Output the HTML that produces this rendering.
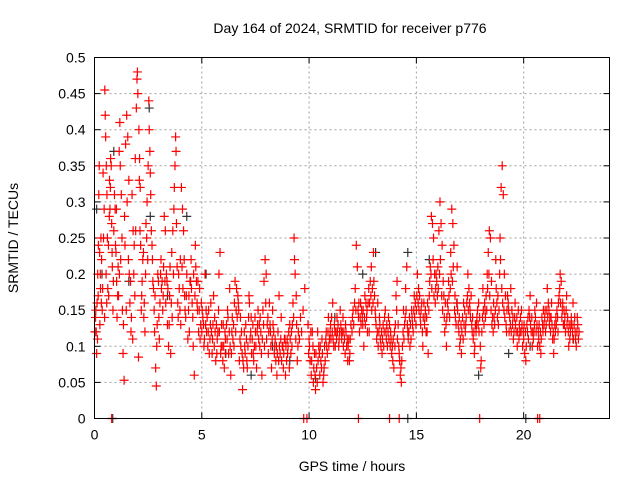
<!DOCTYPE html>
<html><head><meta charset="utf-8"><style>
body{margin:0;background:#fff;}
svg text{font-family:"Liberation Sans",sans-serif;font-size:14px;fill:#000;}
</style></head><body>
<svg id="chart" width="640" height="480" xmlns="http://www.w3.org/2000/svg">
<rect width="640" height="480" fill="#fff"/>
<g id="grid"></g>
<g id="axes"></g>
<g id="black"></g>
<g id="red"></g>
<rect x="94.5" y="57.5" width="515" height="361" fill="none" stroke="#000"/>
<text x="350" y="33" text-anchor="middle">Day 164 of 2024, SRMTID for receiver p776</text>
<text x="352" y="471" text-anchor="middle">GPS time / hours</text>
<text transform="translate(18,238) rotate(-90)" text-anchor="middle">SRMTID / TECUs</text>
</svg>
<script>
const xTicks=[0,5,10,15,20];
const yTicks=[0,0.05,0.1,0.15,0.2,0.25,0.3,0.35,0.4,0.45,0.5];
const yTickLabels=["0","0.05","0.1","0.15","0.2","0.25","0.3","0.35","0.4","0.45","0.5"];
const redPoints=[
[0.05,0.14],[0.08,0.12],[0.1,0.09],[0.12,0.16],[0.15,0.2],[0.18,0.24],[0.2,0.31],[0.22,0.35],[0.25,0.13],[0.28,0.18],[0.3,0.25],[0.33,0.22],[0.36,0.15],[0.4,0.34],[0.45,0.29],[0.48,0.455],[0.5,0.42],[0.52,0.39],[0.55,0.35],[0.58,0.31],[0.6,0.25],[0.62,0.18],[0.65,0.24],[0.7,0.33],[0.72,0.29],[0.75,0.36],[0.78,0.35],[0.8,0.27],[0.83,0.21],[0.86,0.15],[0.9,0.26],[0.93,0.31],[0.96,0.29],[1.0,0.23],[1.03,0.19],[1.05,0.14],[1.08,0.17],[1.1,0.21],[1.15,0.37],[1.18,0.41],[1.2,0.35],[1.25,0.31],[1.28,0.25],[1.3,0.15],[1.33,0.09],[1.38,0.053],[1.4,0.28],[1.45,0.38],[1.5,0.42],[1.55,0.39],[1.6,0.33],[1.62,0.2],[1.65,0.16],[1.7,0.12],[1.75,0.31],[1.8,0.26],[1.85,0.24],[1.9,0.36],[1.95,0.43],[1.98,0.47],[2.0,0.48],[2.02,0.45],[2.05,0.085],[2.07,0.4],[2.1,0.36],[2.13,0.32],[2.15,0.24],[2.2,0.17],[2.25,0.22],[2.3,0.14],[2.35,0.12],[2.4,0.27],[2.45,0.3],[2.5,0.35],[2.53,0.44],[2.55,0.4],[2.58,0.37],[2.6,0.34],[2.65,0.26],[2.7,0.22],[2.75,0.18],[2.8,0.12],[2.85,0.07],[2.88,0.045],[2.9,0.1],[2.95,0.2],[3.0,0.14],[3.05,0.16],[3.1,0.22],[3.15,0.19],[3.2,0.17],[3.25,0.28],[3.3,0.26],[3.35,0.2],[3.4,0.13],[3.45,0.1],[3.5,0.17],[3.55,0.09],[3.6,0.23],[3.65,0.26],[3.7,0.29],[3.72,0.32],[3.75,0.35],[3.78,0.39],[3.8,0.37],[3.85,0.21],[3.9,0.14],[3.95,0.18],[4.0,0.22],[4.05,0.32],[4.1,0.29],[4.15,0.26],[4.2,0.17],[4.25,0.14],[4.3,0.2],[4.35,0.11],[4.4,0.17],[4.45,0.19],[4.5,0.22],[4.55,0.16],[4.6,0.1],[4.65,0.06],[4.7,0.24],[4.75,0.19],[4.8,0.15],[4.85,0.12],[4.9,0.18],[4.95,0.13],
[5.0,0.12],[5.05,0.14],[5.1,0.1],[5.15,0.2],[5.2,0.15],[5.3,0.12],[5.35,0.09],[5.4,0.13],[5.5,0.11],[5.55,0.17],[5.6,0.14],[5.7,0.09],[5.75,0.12],[5.8,0.2],[5.85,0.23],[5.9,0.1],[6.0,0.13],[6.05,0.07],[6.1,0.11],[6.2,0.15],[6.25,0.09],[6.3,0.18],[6.35,0.06],[6.4,0.12],[6.5,0.1],[6.55,0.19],[6.6,0.15],[6.7,0.16],[6.75,0.08],[6.8,0.14],[6.85,0.12],[6.9,0.04],[6.95,0.07],[7.0,0.1],[7.05,0.13],[7.1,0.08],[7.2,0.17],[7.25,0.11],[7.3,0.14],[7.4,0.09],[7.5,0.12],[7.55,0.07],[7.6,0.13],[7.7,0.1],[7.8,0.06],[7.85,0.15],[7.9,0.19],[7.95,0.22],[8.0,0.2],[8.05,0.13],[8.1,0.09],[8.2,0.12],[8.25,0.07],[8.3,0.15],[8.4,0.1],[8.45,0.08],[8.5,0.06],[8.55,0.12],[8.6,0.17],[8.7,0.14],[8.75,0.1],[8.8,0.07],[8.85,0.11],[8.9,0.06],[9.0,0.09],[9.05,0.12],[9.1,0.13],[9.2,0.1],[9.25,0.16],[9.3,0.25],[9.32,0.22],[9.35,0.2],[9.4,0.17],[9.45,0.08],[9.5,0.12],[9.6,0.14],[9.8,0.18],
[9.95,0.13],[10.0,0.11],[10.05,0.08],[10.1,0.06],[10.15,0.12],[10.2,0.05],[10.25,0.09],[10.3,0.04],[10.35,0.07],[10.4,0.12],[10.45,0.1],[10.5,0.06],[10.55,0.08],[10.6,0.11],[10.65,0.05],[10.7,0.07],[10.8,0.12],[10.85,0.09],[10.9,0.14],[10.95,0.11],[11.0,0.13],[11.1,0.16],[11.15,0.1],[11.2,0.12],[11.3,0.14],[11.4,0.11],[11.45,0.15],[11.5,0.12],[11.6,0.1],[11.7,0.13],[11.8,0.08],[11.85,0.11],[11.9,0.09],[12.0,0.12],[12.05,0.15],[12.15,0.18],[12.2,0.24],[12.25,0.21],[12.3,0.14],[12.35,0.12],[12.4,0.16],[12.5,0.13],[12.55,0.1],[12.6,0.17],[12.7,0.15],[12.8,0.12],[12.85,0.19],[12.9,0.21],[13.0,0.23],[13.05,0.17],[13.1,0.14],[13.15,0.11],[13.2,0.16],[13.3,0.13],[13.4,0.09],[13.5,0.12],[13.55,0.15],[13.6,0.11],[13.7,0.14],[13.8,0.12],[13.9,0.08],[13.95,0.07],[14.0,0.1],[14.05,0.17],[14.1,0.19],[14.15,0.13],[14.2,0.09],[14.25,0.06],[14.3,0.05],[14.35,0.1],[14.4,0.15],[14.45,0.13],[14.5,0.18],[14.55,0.21],[14.6,0.12],[14.7,0.1],[14.8,0.14],[14.85,0.12],[14.9,0.17],[15.0,0.15],[15.05,0.2],[15.1,0.18],[15.2,0.13],[15.25,0.16],[15.3,0.1],[15.4,0.14],[15.5,0.12],[15.55,0.09],[15.6,0.17],[15.7,0.28],[15.75,0.27],[15.8,0.25],[15.85,0.2],[15.9,0.18],[16.0,0.21],[16.05,0.26],[16.1,0.3],[16.15,0.27],[16.2,0.24],[16.25,0.19],[16.3,0.14],[16.35,0.16],[16.4,0.1],[16.5,0.19],[16.6,0.23],[16.65,0.29],[16.7,0.27],[16.75,0.24],[16.8,0.17],[16.85,0.13],[16.9,0.21],[17.0,0.14],[17.05,0.11],[17.1,0.09],[17.2,0.16],[17.3,0.13],[17.4,0.2],[17.45,0.18],[17.5,0.15],[17.6,0.12],[17.7,0.09],[17.8,0.13],[17.9,0.16],[17.95,0.14],[18.0,0.07],[18.05,0.12],[18.1,0.18],[18.2,0.15],[18.3,0.2],[18.35,0.23],[18.4,0.26],[18.45,0.25],[18.5,0.19],[18.55,0.14],[18.6,0.16],[18.7,0.22],[18.8,0.17],[18.9,0.25],[18.95,0.32],[19.0,0.35],[19.05,0.31],[19.1,0.2],[19.15,0.17],[19.2,0.12],[19.3,0.15],[19.4,0.18],[19.5,0.14],[19.55,0.12],[19.6,0.16],[19.7,0.1],[19.8,0.13],[19.9,0.15],[20.0,0.11],[20.05,0.09],[20.1,0.08],[20.2,0.14],[20.3,0.17],[20.35,0.12],[20.4,0.1],[20.5,0.13],[20.6,0.16],[20.7,0.11],[20.8,0.09],[20.85,0.14],[20.9,0.12],[21.0,0.15],[21.1,0.18],[21.2,0.13],[21.3,0.16],[21.35,0.11],[21.4,0.09],[21.5,0.14],[21.6,0.12],[21.65,0.17],[21.7,0.2],[21.75,0.19],[21.8,0.15],[21.9,0.13],[22.0,0.17],[22.05,0.14],[22.1,0.1],[22.2,0.13],[22.3,0.16],[22.4,0.12],[22.45,0.1],[22.5,0.14],[22.55,0.11]
];
const redPointsExtra=[
[0.02,0.12],[0.06,0.15],[0.14,0.11],[0.17,0.17],[0.24,0.23],[0.27,0.2],[0.32,0.16],[0.38,0.18],[0.42,0.25],[0.47,0.14],[0.54,0.2],[0.57,0.16],[0.66,0.17],[0.69,0.28],[0.74,0.32],[0.82,0.23],[0.88,0.19],[0.98,0.24],[1.02,0.29],[1.12,0.17],[1.16,0.2],[1.22,0.22],[1.35,0.13],[1.42,0.24],[1.48,0.15],[1.52,0.3],[1.58,0.22],[1.68,0.19],[1.72,0.14],[1.78,0.11],[1.83,0.2],[1.88,0.17],[1.92,0.26],[2.09,0.33],[2.12,0.26],[2.18,0.15],[2.22,0.19],[2.28,0.23],[2.32,0.16],[2.38,0.2],[2.43,0.25],[2.48,0.22],[2.62,0.31],[2.68,0.24],[2.72,0.19],[2.78,0.15],[2.82,0.17],[2.92,0.13],[2.98,0.19],[3.02,0.11],[3.08,0.2],[3.12,0.18],[3.18,0.15],[3.22,0.21],[3.28,0.19],[3.32,0.16],[3.38,0.19],[3.42,0.18],[3.48,0.13],[3.52,0.21],[3.58,0.16],[3.62,0.14],[3.68,0.2],[3.82,0.27],[3.88,0.16],[3.92,0.2],[3.98,0.15],[4.02,0.13],[4.08,0.21],[4.12,0.18],[4.18,0.22],[4.22,0.15],[4.28,0.17],[4.38,0.15],[4.42,0.12],[4.48,0.19],[4.52,0.18],[4.58,0.14],[4.62,0.2],[4.68,0.17],[4.72,0.21],[4.78,0.16],[4.82,0.19],[4.88,0.15],[4.92,0.11],[4.98,0.16],
[5.02,0.15],[5.08,0.13],[5.12,0.11],[5.18,0.13],[5.22,0.12],[5.25,0.14],[5.28,0.1],[5.32,0.15],[5.38,0.11],[5.42,0.16],[5.45,0.12],[5.48,0.09],[5.52,0.13],[5.58,0.1],[5.62,0.12],[5.65,0.08],[5.68,0.13],[5.72,0.11],[5.78,0.15],[5.82,0.12],[5.88,0.09],[5.92,0.13],[5.95,0.1],[5.98,0.08],[6.02,0.1],[6.08,0.12],[6.12,0.09],[6.15,0.13],[6.18,0.11],[6.22,0.14],[6.28,0.12],[6.32,0.1],[6.38,0.09],[6.42,0.14],[6.45,0.11],[6.48,0.13],[6.52,0.16],[6.58,0.12],[6.62,0.18],[6.65,0.14],[6.68,0.17],[6.72,0.15],[6.78,0.11],[6.82,0.1],[6.88,0.09],[6.92,0.08],[6.98,0.12],[7.02,0.09],[7.08,0.11],[7.12,0.07],[7.15,0.1],[7.18,0.14],[7.22,0.16],[7.28,0.12],[7.32,0.09],[7.35,0.11],[7.38,0.13],[7.42,0.08],[7.45,0.1],[7.48,0.14],[7.52,0.1],[7.58,0.12],[7.62,0.15],[7.65,0.11],[7.68,0.13],[7.72,0.14],[7.75,0.12],[7.78,0.09],[7.82,0.11],[7.88,0.13],[7.92,0.1],[7.98,0.16],[8.02,0.11],[8.08,0.14],[8.12,0.12],[8.15,0.16],[8.18,0.13],[8.22,0.1],[8.28,0.11],[8.32,0.13],[8.35,0.12],[8.38,0.09],[8.42,0.11],[8.48,0.1],[8.52,0.09],[8.58,0.08],[8.62,0.1],[8.65,0.09],[8.68,0.11],[8.72,0.08],[8.78,0.1],[8.82,0.09],[8.88,0.11],[8.92,0.1],[8.95,0.08],[8.98,0.11],[9.02,0.1],[9.08,0.07],[9.12,0.11],[9.15,0.09],[9.18,0.12],[9.22,0.13],[9.28,0.14],[9.38,0.11],[9.42,0.13],[9.48,0.1],[9.55,0.11],[9.65,0.12],[9.72,0.15],
[9.98,0.09],[10.02,0.1],[10.08,0.12],[10.12,0.08],[10.18,0.1],[10.22,0.07],[10.28,0.06],[10.32,0.09],[10.38,0.05],[10.42,0.08],[10.48,0.09],[10.52,0.1],[10.58,0.07],[10.62,0.09],[10.68,0.06],[10.72,0.1],[10.75,0.08],[10.78,0.11],[10.82,0.1],[10.88,0.12],[10.92,0.1],[10.98,0.12],[11.02,0.11],[11.05,0.14],[11.08,0.12],[11.12,0.11],[11.18,0.13],[11.22,0.1],[11.25,0.12],[11.28,0.11],[11.32,0.12],[11.35,0.13],[11.38,0.1],[11.42,0.12],[11.48,0.13],[11.52,0.11],[11.55,0.12],[11.58,0.14],[11.62,0.12],[11.65,0.11],[11.68,0.09],[11.72,0.12],[11.75,0.1],[11.78,0.11],[11.82,0.1],[11.88,0.08],[11.92,0.11],[11.95,0.13],[12.02,0.14],[12.08,0.13],[12.12,0.16],[12.18,0.15],[12.28,0.15],[12.32,0.16],[12.38,0.14],[12.42,0.13],[12.45,0.15],[12.48,0.14],[12.52,0.15],[12.58,0.14],[12.62,0.13],[12.65,0.16],[12.68,0.14],[12.72,0.12],[12.75,0.16],[12.78,0.18],[12.82,0.16],[12.88,0.17],[12.92,0.15],[12.95,0.18],[12.98,0.16],[13.02,0.19],[13.08,0.15],[13.12,0.13],[13.18,0.12],[13.22,0.1],[13.25,0.12],[13.28,0.14],[13.32,0.11],[13.35,0.1],[13.38,0.12],[13.42,0.11],[13.45,0.13],[13.48,0.1],[13.52,0.14],[13.58,0.12],[13.62,0.13],[13.65,0.1],[13.68,0.12],[13.72,0.11],[13.75,0.13],[13.78,0.1],[13.82,0.11],[13.85,0.09],[13.88,0.1],[13.92,0.11],[13.98,0.12],[14.02,0.13],[14.08,0.15],[14.12,0.11],[14.18,0.1],[14.22,0.08],[14.28,0.07],[14.32,0.08],[14.38,0.12],[14.42,0.11],[14.48,0.14],[14.52,0.15],[14.58,0.13],[14.62,0.11],[14.65,0.12],[14.68,0.14],[14.72,0.13],[14.75,0.11],[14.78,0.15],[14.82,0.13],[14.88,0.15],[14.92,0.14],[14.95,0.16],[14.98,0.13],[15.02,0.17],[15.08,0.16],[15.12,0.15],[15.15,0.17],[15.18,0.14],[15.22,0.15],[15.28,0.12],[15.32,0.14],[15.35,0.16],[15.38,0.13],[15.42,0.15],[15.45,0.12],[15.48,0.14],[15.52,0.16],[15.58,0.15],[15.62,0.19],[15.65,0.21],[15.68,0.2],[15.72,0.18],[15.78,0.22],[15.82,0.17],[15.88,0.16],[15.92,0.2],[15.95,0.19],[15.98,0.17],[16.02,0.18],[16.08,0.2],[16.12,0.22],[16.18,0.17],[16.22,0.15],[16.28,0.17],[16.32,0.12],[16.38,0.13],[16.42,0.14],[16.45,0.16],[16.48,0.15],[16.52,0.17],[16.55,0.14],[16.58,0.18],[16.62,0.2],[16.68,0.19],[16.72,0.21],[16.78,0.15],[16.82,0.14],[16.88,0.16],[16.92,0.15],[16.95,0.13],[16.98,0.12],[17.02,0.1],[17.08,0.13],[17.12,0.12],[17.15,0.14],[17.18,0.11],[17.22,0.13],[17.25,0.15],[17.28,0.12],[17.32,0.14],[17.35,0.16],[17.38,0.17],[17.42,0.15],[17.48,0.16],[17.52,0.14],[17.55,0.17],[17.58,0.13],[17.62,0.14],[17.65,0.11],[17.68,0.12],[17.72,0.1],[17.75,0.13],[17.78,0.12],[17.82,0.14],[17.85,0.15],[17.88,0.13],[17.92,0.12],[17.98,0.1],[18.02,0.08],[18.08,0.14],[18.12,0.15],[18.15,0.13],[18.18,0.16],[18.22,0.14],[18.25,0.17],[18.28,0.15],[18.32,0.18],[18.38,0.2],[18.42,0.17],[18.48,0.15],[18.52,0.13],[18.58,0.12],[18.62,0.14],[18.65,0.13],[18.68,0.15],[18.72,0.18],[18.75,0.16],[18.78,0.14],[18.82,0.13],[18.85,0.15],[18.88,0.2],[18.92,0.22],[18.98,0.18],[19.02,0.16],[19.08,0.15],[19.12,0.14],[19.18,0.13],[19.22,0.15],[19.25,0.17],[19.28,0.16],[19.32,0.12],[19.35,0.14],[19.38,0.13],[19.42,0.12],[19.45,0.15],[19.48,0.13],[19.52,0.11],[19.58,0.14],[19.62,0.13],[19.65,0.12],[19.68,0.14],[19.72,0.12],[19.75,0.15],[19.78,0.11],[19.82,0.12],[19.85,0.14],[19.88,0.12],[19.92,0.13],[19.95,0.1],[19.98,0.12],[20.02,0.13],[20.08,0.12],[20.12,0.1],[20.15,0.13],[20.18,0.12],[20.22,0.11],[20.25,0.15],[20.28,0.14],[20.32,0.13],[20.38,0.14],[20.42,0.12],[20.45,0.11],[20.48,0.12],[20.52,0.15],[20.55,0.14],[20.58,0.12],[20.62,0.13],[20.65,0.1],[20.68,0.12],[20.72,0.13],[20.75,0.1],[20.78,0.12],[20.82,0.11],[20.88,0.13],[20.92,0.15],[20.95,0.13],[20.98,0.14],[21.02,0.12],[21.05,0.13],[21.08,0.15],[21.12,0.14],[21.15,0.16],[21.18,0.15],[21.22,0.14],[21.25,0.12],[21.28,0.14],[21.32,0.13],[21.38,0.12],[21.42,0.11],[21.45,0.13],[21.48,0.12],[21.52,0.13],[21.55,0.15],[21.58,0.14],[21.62,0.16],[21.68,0.18],[21.72,0.16],[21.78,0.14],[21.82,0.16],[21.85,0.13],[21.88,0.15],[21.92,0.14],[21.95,0.12],[21.98,0.15],[22.02,0.13],[22.08,0.12],[22.12,0.13],[22.15,0.11],[22.18,0.12],[22.22,0.14],[22.25,0.13],[22.28,0.12],[22.32,0.11],[22.35,0.13],[22.38,0.14],[22.42,0.11],[22.48,0.12],[22.52,0.13],[22.58,0.12]
];
const blackPoints=[
[0.1,0.29],[0.35,0.2],[0.9,0.37],[1.6,0.19],[2.55,0.43],[2.6,0.28],[3.4,0.17],[4.3,0.28],[5.2,0.2],[6.1,0.09],[7.3,0.06],[8.3,0.1],[9.1,0.08],[10.3,0.055],[11.2,0.14],[12.5,0.2],[13.1,0.23],[14.6,0.23],[15.6,0.22],[16.9,0.16],[17.9,0.06],[19.3,0.09],[20.3,0.1],[22.3,0.11]
];
const redZeroMarks=[0.8,9.75,9.9,12.3,13.75,14.2,17.95,20.65,20.75];
const blackZeroMarks=[0.85,14.6,20.1];

const X0=94.5,X1=609.5,Y0=418.5,Y1=57.5,XMAX=24,YMAX=0.5;
const sx=h=>X0+(X1-X0)*h/XMAX, sy=v=>Y0-(Y0-Y1)*v/YMAX;
const NS="http://www.w3.org/2000/svg";
function mk(tag,attrs,parent){const e=document.createElementNS(NS,tag);for(const k in attrs)e.setAttribute(k,attrs[k]);parent.appendChild(e);return e;}
const grid=document.getElementById('grid'),axes=document.getElementById('axes');
xTicks.forEach(t=>{const x=sx(t);
 if(t>0){const l=mk('line',{x1:x,x2:x,y1:Y0,y2:Y1,stroke:'#a0a0a0','stroke-dasharray':'2,3'},grid);
 
 }
 mk('line',{x1:x,x2:x,y1:Y0,y2:Y0-6,stroke:'#000'},axes);
 mk('line',{x1:x,x2:x,y1:Y1,y2:Y1+6,stroke:'#000'},axes);
 const tx=mk('text',{x:x,y:Y0+21,'text-anchor':'middle'},axes);tx.textContent=t;
 
 
});
yTicks.forEach((t,i)=>{const y=sy(t);
 if(t>0&&t<YMAX){const l=mk('line',{x1:X0,x2:X1,y1:y,y2:y,stroke:'#a0a0a0','stroke-dasharray':'2,3'},grid);
 
 }
 mk('line',{x1:X0,x2:X0+6,y1:y,y2:y,stroke:'#000'},axes);
 mk('line',{x1:X1,x2:X1-6,y1:y,y2:y,stroke:'#000'},axes);
 const tx=mk('text',{x:X0-9,y:y+5,'text-anchor':'end'},axes);tx.textContent=yTickLabels[i];
 
 
});
function plus(g,h,v,col,name){const x=sx(h),y=sy(v);
 const p=mk('path',{d:`M${x-4.5},${y}H${x+4.5}M${x},${y-4.5}V${y+4.5}`,stroke:col,'stroke-width':1.2,fill:'none'},g);
 
 }
const bg=document.getElementById('black'),rg=document.getElementById('red');
blackPoints.forEach(p=>plus(bg,p[0],p[1],'#333','black-point'));
blackZeroMarks.forEach(h=>plus(bg,h,0,'#333','black-zero-point'));
redPoints.forEach(p=>plus(rg,p[0],p[1],'#f00','red-point'));
redPointsExtra.forEach(p=>plus(rg,p[0],p[1],'#f00','red-point'));
redZeroMarks.forEach(h=>plus(rg,h,0,'#f00','red-zero-point'));
</script>
</body></html>
